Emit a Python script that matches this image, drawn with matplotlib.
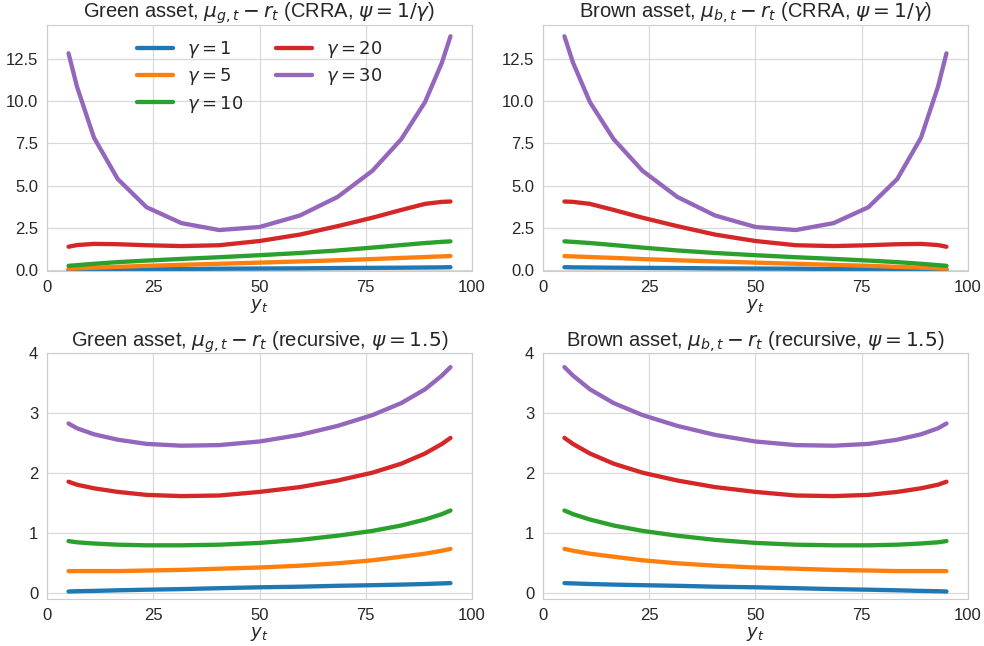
import numpy as np
import matplotlib
matplotlib.use("Agg")
import matplotlib.pyplot as plt
import seaborn as sns

sns.set_style("whitegrid")
plt.rcParams['font.family'] = ['Liberation Sans', 'DejaVu Sans']
plt.rcParams['mathtext.fontset'] = 'dejavusans'

gammas = [1, 5, 10, 20, 30]
labels = [r"$\gamma = %d$" % g for g in gammas]
colors = ["#1f77b4", "#ff7f0e", "#2ca02c", "#d62728", "#9467bd"]

y_grid = [5, 7, 11, 16.6, 23.4, 31.6, 40.5, 50, 59.5, 68.4, 76.6, 83.4, 89, 93, 95]

# CRRA, green asset premium
crra_green_g1 = [0.01, 0.02, 0.03, 0.04, 0.05, 0.06, 0.08, 0.09, 0.10, 0.12, 0.13, 0.14, 0.15, 0.16, 0.17]
crra_green_g5 = [0.08, 0.10, 0.14, 0.19, 0.25, 0.31, 0.37, 0.44, 0.51, 0.58, 0.65, 0.72, 0.77, 0.81, 0.83]
crra_green_g10 = [0.25, 0.29, 0.37, 0.47, 0.56, 0.66, 0.76, 0.88, 1.01, 1.16, 1.33, 1.48, 1.60, 1.67, 1.70]
crra_green_g20 = [1.38, 1.48, 1.55, 1.53, 1.47, 1.42, 1.47, 1.72, 2.10, 2.60, 3.10, 3.56, 3.92, 4.04, 4.06]
crra_green_g30 = [12.84, 10.86, 7.84, 5.39, 3.72, 2.78, 2.37, 2.55, 3.23, 4.33, 5.88, 7.75, 9.95, 12.30, 13.85]

# CRRA, brown asset premium
crra_brown_g1 = [0.17, 0.16, 0.15, 0.14, 0.13, 0.12, 0.10, 0.09, 0.08, 0.06, 0.05, 0.04, 0.03, 0.02, 0.01]
crra_brown_g5 = [0.83, 0.81, 0.77, 0.72, 0.65, 0.58, 0.51, 0.44, 0.37, 0.31, 0.25, 0.19, 0.14, 0.10, 0.08]
crra_brown_g10 = [1.70, 1.67, 1.60, 1.48, 1.33, 1.16, 1.01, 0.88, 0.76, 0.66, 0.56, 0.47, 0.37, 0.29, 0.25]
crra_brown_g20 = [4.06, 4.04, 3.92, 3.56, 3.10, 2.60, 2.10, 1.72, 1.47, 1.42, 1.47, 1.53, 1.55, 1.48, 1.38]
crra_brown_g30 = [13.85, 12.30, 9.95, 7.75, 5.88, 4.33, 3.23, 2.55, 2.37, 2.78, 3.72, 5.39, 7.84, 10.86, 12.84]

# Recursive, green asset premium
rec_green_g1 = [0.03, 0.035, 0.04, 0.05, 0.06, 0.07, 0.085, 0.10, 0.11, 0.125, 0.135, 0.145, 0.155, 0.165, 0.17]
rec_green_g5 = [0.37, 0.37, 0.37, 0.37, 0.38, 0.39, 0.41, 0.43, 0.46, 0.50, 0.55, 0.61, 0.66, 0.71, 0.74]
rec_green_g10 = [0.87, 0.85, 0.83, 0.81, 0.80, 0.80, 0.81, 0.84, 0.89, 0.96, 1.04, 1.13, 1.23, 1.32, 1.38]
rec_green_g20 = [1.86, 1.81, 1.75, 1.69, 1.64, 1.62, 1.63, 1.69, 1.77, 1.88, 2.01, 2.16, 2.33, 2.49, 2.59]
rec_green_g30 = [2.83, 2.75, 2.65, 2.56, 2.49, 2.46, 2.47, 2.53, 2.64, 2.79, 2.97, 3.17, 3.40, 3.63, 3.77]

# Recursive, brown asset premium
rec_brown_g1 = [0.17, 0.165, 0.155, 0.145, 0.135, 0.125, 0.11, 0.10, 0.085, 0.07, 0.06, 0.05, 0.04, 0.035, 0.03]
rec_brown_g5 = [0.74, 0.71, 0.66, 0.61, 0.55, 0.50, 0.46, 0.43, 0.41, 0.39, 0.38, 0.37, 0.37, 0.37, 0.37]
rec_brown_g10 = [1.38, 1.32, 1.23, 1.13, 1.04, 0.96, 0.89, 0.84, 0.81, 0.80, 0.80, 0.81, 0.83, 0.85, 0.87]
rec_brown_g20 = [2.59, 2.49, 2.33, 2.16, 2.01, 1.88, 1.77, 1.69, 1.63, 1.62, 1.64, 1.69, 1.75, 1.81, 1.86]
rec_brown_g30 = [3.77, 3.63, 3.40, 3.17, 2.97, 2.79, 2.64, 2.53, 2.47, 2.46, 2.49, 2.56, 2.65, 2.75, 2.83]

titles = [r"Green asset, $\mu_{g,t} - r_t$ (CRRA, $\psi = 1/\gamma$)",
          r"Brown asset, $\mu_{b,t} - r_t$ (CRRA, $\psi = 1/\gamma$)",
          r"Green asset, $\mu_{g,t} - r_t$ (recursive, $\psi = 1.5$)",
          r"Brown asset, $\mu_{b,t} - r_t$ (recursive, $\psi = 1.5$)"]

panels = [
    [crra_green_g1, crra_green_g5, crra_green_g10, crra_green_g20, crra_green_g30],
    [crra_brown_g1, crra_brown_g5, crra_brown_g10, crra_brown_g20, crra_brown_g30],
    [rec_green_g1, rec_green_g5, rec_green_g10, rec_green_g20, rec_green_g30],
    [rec_brown_g1, rec_brown_g5, rec_brown_g10, rec_brown_g20, rec_brown_g30],
]

fig = plt.figure(figsize=(9.84, 6.46), dpi=100)
W, H = 984, 646
boxes = [
    (47.3, 24.6, 471.7, 271.4),
    (543.2, 24.6, 967.7, 271.4),
    (47.3, 353.3, 471.7, 599.3),
    (543.2, 353.3, 967.7, 599.3),
]
text_color = "#262626"
for i, (series, title, box) in enumerate(zip(panels, titles, boxes)):
    x0, y0, x1, y1 = box
    ax = fig.add_axes([x0 / W, 1 - y1 / H, (x1 - x0) / W, (y1 - y0) / H])
    for vals, lab, c in zip(series, labels, colors):
        ax.plot(y_grid, vals, color=c, lw=3.1, label=lab)
    ax.set_xlim(0, 100)
    ax.set_xticks([0, 25, 50, 75, 100])
    if i >= 2:
        ax.set_ylim(-0.1, 4.0)
        ax.set_yticks([0, 1, 2, 3, 4])
    else:
        ax.set_ylim(-0.08, 14.54)
        ax.set_yticks([0, 2.5, 5, 7.5, 10, 12.5])
        ax.yaxis.set_major_formatter(matplotlib.ticker.FormatStrFormatter('%.1f'))
    ax.set_title(title, fontsize=14.5, color=text_color, pad=5)
    ax.set_xlabel(r"$y_t$", fontsize=13, color=text_color, labelpad=1)
    ax.tick_params(labelsize=12, colors=text_color, pad=3)
    for s in ax.spines.values():
        s.set_color("#cccccc")
    ax.grid(color="#d9d9d9", lw=0.9)
    if i == 0:
        ax.legend(loc="upper center", ncol=2, frameon=False, fontsize=13,
                  handlelength=2.0, handletextpad=0.75, columnspacing=1.85,
                  borderaxespad=0.4, labelspacing=0.35)

fig.savefig("out.png", dpi=100)
